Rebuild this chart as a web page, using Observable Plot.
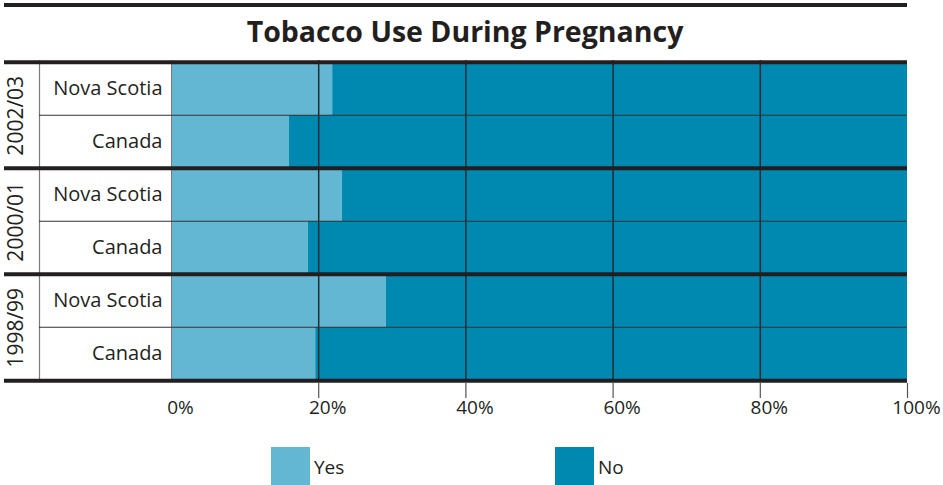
<!DOCTYPE html>
<html>
<head>
<meta charset="utf-8">
<script src="https://cdn.jsdelivr.net/npm/d3@7"></script>
<script src="https://cdn.jsdelivr.net/npm/@observablehq/plot@0.6"></script>
<style>
  html, body { margin: 0; padding: 0; background: #fff; }
  #chart { position: relative; width: 943px; height: 485px; font-family: "Open Sans", "Noto Sans", sans-serif; color: #231f20; }
  #topline { position: absolute; left: 4px; top: 3px; width: 903px; height: 4px; background: #231f20; }
  #title { position: absolute; left: 4px; top: 12px; width: 922px; text-align: center; font-weight: 700; font-size: 28.5px; line-height: 38px; }
  #plot { position: absolute; left: 0; top: 40px; }
  #legend { position: absolute; left: 271px; top: 447px; display: flex; }
  .item { display: flex; align-items: center; width: 284px; font-size: 19px; }
  .swatch { width: 39px; height: 39px; margin-right: 4px; }
</style>
</head>
<body>
<div id="chart">
  <div id="topline"></div>
  <div id="title">Tobacco Use During Pregnancy</div>
  <div id="plot"></div>
  <div id="legend"></div>
</div>
<script>
// Share of women reporting tobacco use during pregnancy (%)
const years = ["2002/03", "2000/01", "1998/99"];
const regions = ["Nova Scotia", "Canada"];
const novaScotiaYes = [21.9, 23.2, 29.2];
const canadaYes = [16.0, 18.6, 19.6];
const responses = ["Yes", "No"];
const tickValues = [0, 20, 40, 60, 80, 100];

const responseColors = ["#64b7d2", "#0089b0"];
const ink = "#231f20";
const font = "'Open Sans', 'Noto Sans', sans-serif";

// One row per year × region, top to bottom
const rows = years.flatMap((year, i) => regions.map(region => ({
  key: `${year} ${region}`,
  year,
  region,
  yes: region === "Nova Scotia" ? novaScotiaYes[i] : canadaYes[i]
})));
const segments = rows.flatMap(r => [
  {key: r.key, response: "Yes", value: r.yes},
  {key: r.key, response: "No", value: 100 - r.yes}
]);

const svgHeight = 400, marginTop = 20, marginBottom = 59;
const plotHeight = svgHeight - marginTop - marginBottom;
const band = plotHeight / rows.length;

const plot = Plot.plot({
  width: 943,
  height: svgHeight,
  marginLeft: 171,
  marginRight: 36,
  marginTop,
  marginBottom,
  x: {domain: [0, 100], axis: null},
  y: {domain: rows.map(d => d.key), padding: 0, axis: null},
  color: {domain: responses, range: responseColors},
  style: {fontFamily: font, color: ink, background: "transparent", overflow: "visible"},
  marks: [
    Plot.barX(segments, Plot.stackX({y: "key", x: "value", fill: "response", order: responses})),
    // grid lines over the bars
    Plot.ruleX(tickValues.filter(t => t > 0 && t < 100), {stroke: "#1f2d35", strokeWidth: 1.5}),
    // left edge of the bars and the label column divider
    Plot.ruleX([0], {stroke: "#7a7a7a", strokeWidth: 1}),
    Plot.ruleX([0], {stroke: "#7a7a7a", strokeWidth: 1.2, dx: -132}),
    // thin separators between regions
    Plot.ruleY(rows.filter(r => r.region === "Canada"), {y: "key", dy: -band / 2, insetLeft: -132, stroke: "#333", strokeWidth: 1.2}),
    // thick separators between years
    Plot.ruleY(rows.filter(r => r.region === "Nova Scotia"), {y: "key", dy: -band / 2, insetLeft: -167, stroke: ink, strokeWidth: 4}),
    Plot.ruleY(rows.slice(-1), {y: "key", dy: band / 2, insetLeft: -167, stroke: ink, strokeWidth: 4}),
    // tick marks below the table
    Plot.ruleX(tickValues.filter(t => t > 0), {stroke: "#555", strokeWidth: 1.2, insetTop: plotHeight + 2, insetBottom: -17}),
    Plot.text(tickValues, {x: d => d, text: d => `${d}%`, frameAnchor: "bottom", dy: 32, dx: 9, fontSize: 19, fill: ink}),
    // region labels
    Plot.text(rows, {y: "key", text: "region", frameAnchor: "left", dx: -9, textAnchor: "end", fontSize: 20, fill: ink}),
    // year labels, rotated, centred on each pair of rows
    Plot.text(rows.filter(r => r.region === "Nova Scotia"), {y: "key", text: "year", frameAnchor: "left", textAnchor: "middle", dx: -155, dy: band / 2, rotate: -90, fontSize: 21, fill: ink})
  ]
});
document.getElementById("plot").appendChild(plot);

// Legend built from the color scale
const color = plot.scale("color");
const legend = document.getElementById("legend");
color.domain.forEach((d, i) => {
  const item = document.createElement("div");
  item.className = "item";
  const sw = document.createElement("div");
  sw.className = "swatch";
  sw.style.background = color.range[i];
  const label = document.createElement("span");
  label.textContent = d;
  item.append(sw, label);
  legend.appendChild(item);
});
</script>
</body>
</html>
